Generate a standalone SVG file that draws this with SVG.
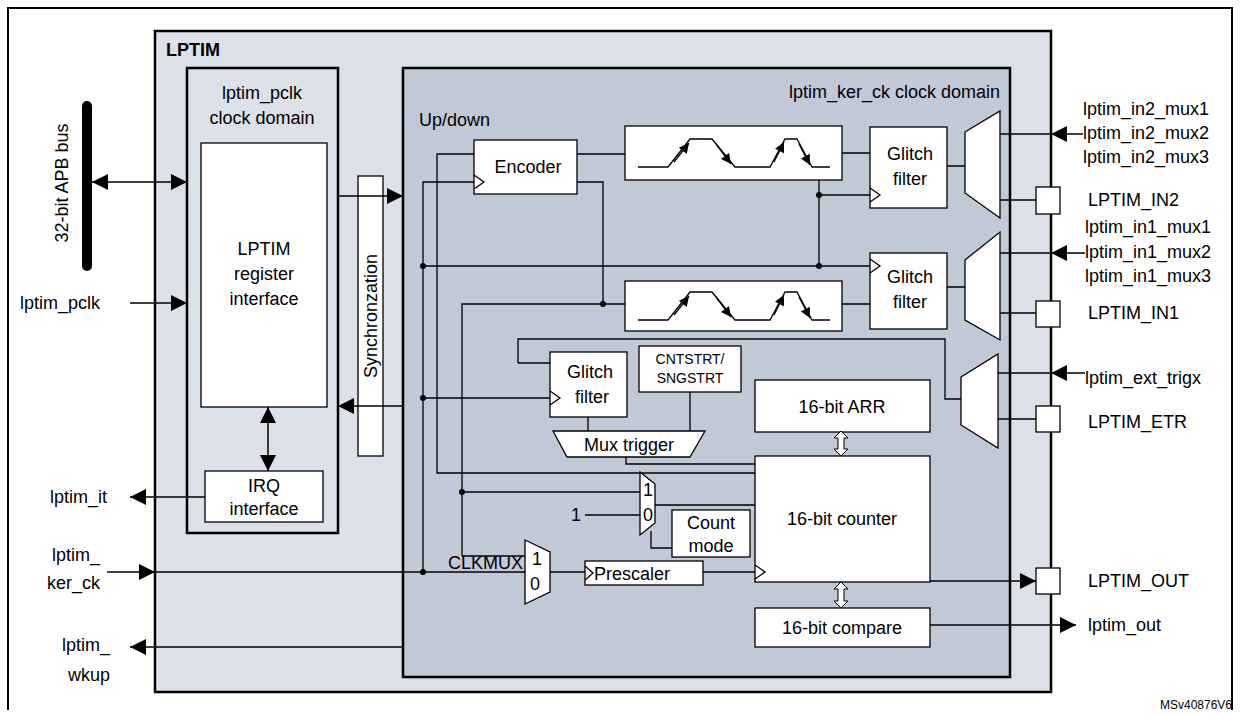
<svg xmlns="http://www.w3.org/2000/svg" width="1240" height="715" viewBox="0 0 1240 715">
<defs>
<marker id="ar" viewBox="0 0 10 10" refX="10" refY="5" markerWidth="18" markerHeight="16" markerUnits="userSpaceOnUse" orient="auto-start-reverse"><path d="M0,0 L10,5 L0,10 z" fill="#000"/></marker>
<marker id="sa" viewBox="0 0 10 10" refX="10" refY="5" markerWidth="13" markerHeight="10" markerUnits="userSpaceOnUse" orient="auto"><path d="M0,0 L10,5 L0,10 z" fill="#000"/></marker>
<style>
text{font-family:"Liberation Sans",Arial,sans-serif;font-size:18px;fill:#000}
.c{text-anchor:middle}
.w{fill:#fff;stroke:#000;stroke-width:1.3}
.l{fill:none;stroke:#000;stroke-width:1.3}
.a{fill:none;stroke:#000;stroke-width:1.5;marker-end:url(#ar)}
.s{font-size:14px}
</style>
</defs>
<path d="M8,710 V8 H1232 V710" fill="none" stroke="#000" stroke-width="2"/>
<g id="lptim"><rect x="155" y="31" width="896" height="661" fill="#dce0e8" stroke="#000" stroke-width="2.5"/><text x="166" y="56" style="font-weight:bold">LPTIM</text></g>
<g id="pclkdomain"><rect x="187" y="68" width="151" height="465" fill="#dce0e8" stroke="#000" stroke-width="2.5"/><text class="c" x="262" y="99">lptim_pclk</text><text class="c" x="262" y="124">clock domain</text></g>
<g id="kerdomain"><rect x="403" y="68" width="607" height="609" fill="#c1c9d7" stroke="#000" stroke-width="2.5"/><text x="1000" y="98" text-anchor="end">lptim_ker_ck clock domain</text><text x="419" y="126">Up/down</text></g>
<g id="bus"><line x1="87" y1="106" x2="87" y2="266" stroke="#000" stroke-width="10" stroke-linecap="round"/><text class="c" transform="translate(68,183) rotate(-90)">32-bit APB bus</text></g>
<g id="reg"><rect class="w" x="201" y="143" width="126" height="264"/><text class="c" x="264" y="255">LPTIM</text><text class="c" x="264" y="280">register</text><text class="c" x="264" y="305">interface</text></g>
<g id="irq"><rect class="w" x="205" y="471" width="118" height="51"/><text class="c" x="264" y="492">IRQ</text><text class="c" x="264" y="515">interface</text></g>
<g id="sync"><rect class="w" x="358" y="176" width="25" height="280"/><text class="c" transform="translate(377,316) rotate(-90)">Synchronzation</text></g>
<g id="encoder"><rect class="w" x="474" y="140" width="103" height="54"/><text class="c" x="528" y="173">Encoder</text><path class="l" d="M474,175 L484,182 L474,189"/></g>
<g id="edge1"><rect class="w" x="625" y="126" width="217" height="54"/></g>
<g id="edge2"><rect class="w" x="625" y="281" width="217" height="50"/></g>
<g id="gf1"><rect class="w" x="870" y="127" width="77" height="81"/><text class="c" x="910" y="160">Glitch</text><text class="c" x="910" y="185">filter</text><path class="l" d="M870,188 L880,195 L870,202"/></g>
<g id="gf2"><rect class="w" x="870" y="253" width="77" height="76"/><text class="c" x="910" y="283">Glitch</text><text class="c" x="910" y="308">filter</text><path class="l" d="M870,259 L880,266 L870,273"/></g>
<g id="mux1"><path class="w" d="M965,132 L1000,111 L1000,218 L965,193 z"/></g>
<g id="mux2"><path class="w" d="M965,260 L1000,232 L1000,340 L965,320 z"/></g>
<g id="mux3"><path class="w" d="M961,377 L998,354 L998,448 L961,425 z"/></g>
<g id="gf3"><rect class="w" x="550" y="352" width="77" height="65"/><text class="c" x="590" y="378">Glitch</text><text class="c" x="592" y="403">filter</text><path class="l" d="M550,391 L560,398 L550,405"/></g>
<g id="cnt"><rect class="w" x="639" y="346" width="102" height="46"/><text class="c s" x="690" y="364">CNTSTRT/</text><text class="c s" x="690" y="383">SNGSTRT</text></g>
<g id="muxtrig"><path class="w" d="M553,431 L705,431 L690,457 L567,457 z"/><text class="c" x="629" y="451">Mux trigger</text></g>
<g id="arr"><rect class="w" x="755" y="380" width="175" height="52"/><text class="c" x="842" y="413">16-bit ARR</text></g>
<g id="counter"><rect class="w" x="755" y="456" width="175" height="126"/><text class="c" x="842" y="525">16-bit counter</text><path class="l" d="M755,565 L765,572 L755,579"/></g>
<g id="compare"><rect class="w" x="755" y="608" width="175" height="39"/><text class="c" x="842" y="634">16-bit compare</text></g>
<g id="cmux"><path class="w" d="M640,472 L655,484 L655,523 L640,535 z"/><text class="c" x="648" y="496">1</text><text class="c" x="648" y="521">0</text></g>
<g id="countmode"><rect class="w" x="672" y="510" width="78" height="47"/><text class="c" x="711" y="529">Count</text><text class="c" x="711" y="552">mode</text></g>
<g id="clkmux"><path class="w" d="M525,540 L550,552 L550,592 L525,604 z"/><text class="c" x="537" y="565">1</text><text class="c" x="535" y="590">0</text><text x="523" y="569" text-anchor="end">CLKMUX</text></g>
<g id="prescaler"><rect class="w" x="585" y="561" width="118" height="24"/><path class="l" d="M585,566 L593,573 L585,580"/><text x="594" y="580">Prescaler</text></g>
<g id="pads"><rect class="w" x="1036" y="187" width="24" height="27"/><rect class="w" x="1036" y="301" width="24" height="26"/><rect class="w" x="1036" y="406" width="24" height="26"/><rect class="w" x="1036" y="568" width="24" height="26"/></g>
<g id="labels">
<text x="20" y="309">lptim_pclk</text><text x="50" y="503">lptim_it</text><text x="52" y="561">lptim_</text><text x="47" y="589">ker_ck</text><text x="62" y="651">lptim_</text><text x="68" y="681">wkup</text>
<text x="1083" y="115">lptim_in2_mux1</text><text x="1083" y="139">lptim_in2_mux2</text><text x="1083" y="163">lptim_in2_mux3</text><text x="1088" y="206">LPTIM_IN2</text>
<text x="1085" y="233">lptim_in1_mux1</text><text x="1085" y="258">lptim_in1_mux2</text><text x="1085" y="282">lptim_in1_mux3</text><text x="1088" y="319">LPTIM_IN1</text>
<text x="1085" y="384">lptim_ext_trigx</text><text x="1088" y="428">LPTIM_ETR</text><text x="1088" y="587">LPTIM_OUT</text><text x="1088" y="631">lptim_out</text>
<text x="571" y="521">1</text>
<text x="1232" y="709" text-anchor="end" style="font-size:12px">MSv40876V6</text>
</g>
<g id="connectors">
<line class="a" x1="140" y1="182" x2="187" y2="182"/><line class="a" x1="140" y1="182" x2="92" y2="182"/>
<line class="a" x1="130" y1="303" x2="187" y2="303"/>
<path class="a" d="M338,196 H403"/>
<path class="a" d="M403,406 H338"/>
<line class="a" x1="268" y1="440" x2="268" y2="407"/><line class="a" x1="268" y1="440" x2="268" y2="471"/>
<path class="a" d="M205,497 H130"/>
<path class="a" d="M107,572 H155"/><path class="l" d="M155,572 H525"/>
<path class="a" d="M403,647 H130"/>
<path class="l" d="M474,154 H437 V473 H755"/>
<path class="l" d="M474,182 H423 V572"/>
<path class="l" d="M423,266 H870"/>
<path class="l" d="M423,398 H550"/>
<path class="l" d="M577,154 H625 M577,182 H603 V304 M462,556 V304 H625"/>
<path class="l" d="M462,556 H525"/>
<path class="l" d="M462,492 H640 M585,515 H640 M655,505 H755 M651,531 V548 H672"/>
<path class="l" d="M550,572 H585 M703,572 H755"/>
<path class="l" d="M842,153 H870 M819,180 V266 M819,195 H870 M842,304 H870"/>
<path class="l" d="M947,166 H965 M947,287 H965"/>
<path class="l" d="M1000,134 H1051 M1000,200 H1036 M1000,253 H1051 M1000,313 H1036 M998,373 H1051 M998,419 H1036"/>
<path class="a" d="M1083,134 H1051"/><path class="a" d="M1085,253 H1051"/><path class="a" d="M1085,373 H1051"/>
<path class="l" d="M518,363 H550 M518,363 V339 H945 V399 H961"/>
<path class="l" d="M588,417 V431 M690,392 V431 M626,457 V464 H755"/>
<path class="a" d="M930,581 H1036"/><path class="a" d="M930,625 H1076"/>
<path d="M834,438 L841,431 L848,438 L844,438 L844,449 L848,449 L841,456 L834,449 L838,449 L838,438 z" fill="#fff" stroke="#000"/>
<path d="M834,589 L841,582 L848,589 L844,589 L844,601 L848,601 L841,608 L834,601 L838,601 L838,589 z" fill="#fff" stroke="#000"/>
<path class="l" d="M638,167 H668 L690,139 H712 L735,167 H770 L785,139 H797 L812,167 H830"/>
<path class="l" d="M638,320 H668 L690,292 H712 L735,320 H770 L785,292 H797 L812,320 H830"/>
<g stroke="#000" stroke-width="1.3" marker-end="url(#sa)"><line x1="674" y1="162" x2="689" y2="143"/><line x1="716" y1="144" x2="731" y2="164"/><line x1="774" y1="162" x2="784" y2="142"/><line x1="799" y1="144" x2="810" y2="165"/><line x1="674" y1="315" x2="689" y2="296"/><line x1="716" y1="297" x2="731" y2="317"/><line x1="774" y1="315" x2="784" y2="295"/><line x1="799" y1="297" x2="810" y2="318"/></g>
<g fill="#000"><circle cx="423" cy="266" r="3"/><circle cx="423" cy="398" r="3"/><circle cx="423" cy="572" r="3"/><circle cx="462" cy="492" r="3"/><circle cx="603" cy="304" r="3"/><circle cx="819" cy="195" r="3"/><circle cx="819" cy="266" r="3"/></g>
</g>
</svg>
